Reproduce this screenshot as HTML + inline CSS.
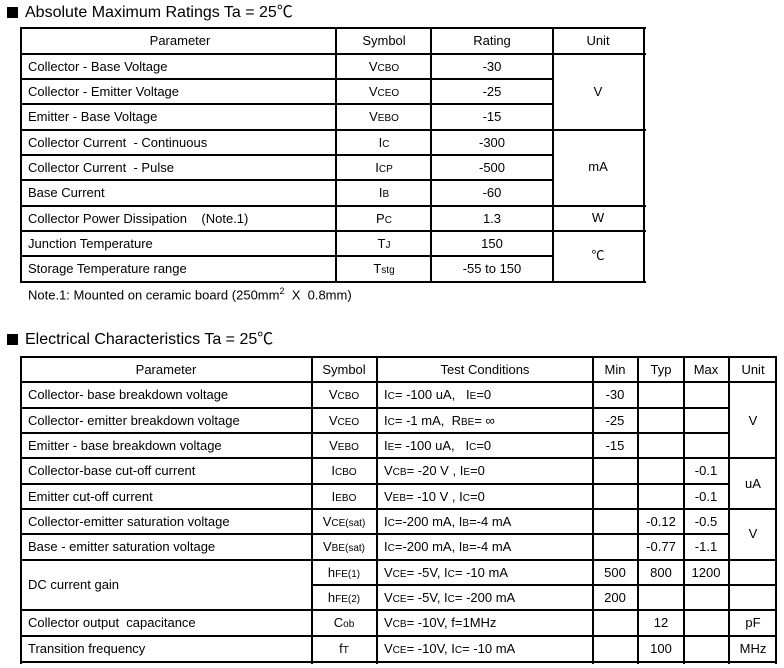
<!DOCTYPE html>
<html><head><meta charset="utf-8"><style>
body{margin:0;width:784px;height:668px;background:#fff;position:relative;overflow:hidden;font-family:"Liberation Sans","Noto Sans CJK SC",sans-serif;color:#000}
.t{position:absolute;font-size:13px;line-height:16px;white-space:nowrap}
.c{transform:translateX(-50%)}
.l{position:absolute;background:#000}
small{font-size:10px}
.h{position:absolute;font-size:16px;line-height:18px;white-space:nowrap}
.sq{position:absolute;width:11px;height:11px;background:#000}
</style></head><body>
<div class="sq" style="left:7px;top:7px"></div>
<div class="h" style="left:25px;top:4px">Absolute Maximum Ratings Ta = 25℃</div>
<div class="sq" style="left:7px;top:334px"></div>
<div class="h" style="left:25px;top:331px">Electrical Characteristics Ta = 25℃</div>
<div class="t" style="left:28px;top:283px">Note.1: Mounted on ceramic board (250mm<sup style="font-size:9px">2</sup>&nbsp; X&nbsp; 0.8mm)</div>
<script>
function L(x,y,w,h){document.write('<div class="l" style="left:'+x+'px;top:'+y+'px;width:'+w+'px;height:'+h+'px"></div>')}
function T(x,y,s,c){document.write('<div class="t'+(c?' c':'')+'" style="left:'+x+'px;top:'+(y-8)+'px">'+s+'</div>')}
function S(a,b){return a+'<small>'+b+'</small>'}
var c1=[21,336,431,553,644], r1=[28,54,79,104,130,155,180,206,231,256,282];
c1.forEach(function(x,i){L(x-1,r1[0]-1,2,r1[10]-r1[0]+2)});
L(20,27,626,2);L(20,53,626,2);L(20,281,626,2);
for(var i=2;i<10;i++){var y=r1[i];var merged=(i==2||i==3||i==5||i==6||i==9);L(20,y-1,merged?534:626,2);}
var rows1=[["Collector - Base Voltage",S("V","CBO"),"-30"],["Collector - Emitter Voltage",S("V","CEO"),"-25"],["Emitter - Base Voltage",S("V","EBO"),"-15"],["Collector Current&nbsp; - Continuous",S("I","C"),"-300"],["Collector Current&nbsp; - Pulse",S("I","CP"),"-500"],["Base Current",S("I","B"),"-60"],["Collector Power Dissipation&nbsp;&nbsp;&nbsp; (Note.1)",S("P","C"),"1.3"],["Junction Temperature",S("T","J"),"150"],["Storage Temperature range",S("T","stg"),"-55 to 150"]];
T(180,41,"Parameter",1);T(384,41,"Symbol",1);T(492,41,"Rating",1);T(598,41,"Unit",1);
rows1.forEach(function(r,i){var y=(r1[i+1]+r1[i+2])/2;T(28,y,r[0]);T(384,y,r[1],1);T(492,y,r[2],1);});
T(598,92,"V",1);T(598,167,"mA",1);T(598,218,"W",1);T(598,256,"℃",1);
var c2=[21,312,377,593,638,684,729,776], r2=[357,382,408,433,458,484,509,534,560,585,610,636,662];
c2.forEach(function(x){L(x-1,356,2,308)});
L(20,356,757,2);L(20,381,757,2);L(20,661,757,2);
var skipUnit={2:1,3:1,5:1,7:1}, skipParam={9:1};
for(var i=2;i<12;i++){var y=r2[i];
 if(skipParam[i]){L(311,y-1,skipUnit[i]?418:466,2);}
 else L(20,y-1,skipUnit[i]?709:757,2);}
T(166,370,"Parameter",1);T(344,370,"Symbol",1);T(485,370,"Test Conditions",1);T(615,370,"Min",1);T(661,370,"Typ",1);T(706,370,"Max",1);T(753,370,"Unit",1);
var rows2=[["Collector- base breakdown voltage",S("V","CBO"),S("I","C")+"= -100 uA,&nbsp;&nbsp; "+S("I","E")+"=0","-30","",""],
["Collector- emitter breakdown voltage",S("V","CEO"),S("I","C")+"= -1 mA,&nbsp; "+S("R","BE")+"= ∞","-25","",""],
["Emitter - base breakdown voltage",S("V","EBO"),S("I","E")+"= -100 uA,&nbsp;&nbsp; "+S("I","C")+"=0","-15","",""],
["Collector-base cut-off current",S("I","CBO"),S("V","CB")+"= -20 V , "+S("I","E")+"=0","","","-0.1"],
["Emitter cut-off current",S("I","EBO"),S("V","EB")+"= -10 V , "+S("I","C")+"=0","","","-0.1"],
["Collector-emitter saturation voltage",S("V","CE(sat)"),S("I","C")+"=-200 mA, "+S("I","B")+"=-4 mA","","-0.12","-0.5"],
["Base - emitter saturation voltage",S("V","BE(sat)"),S("I","C")+"=-200 mA, "+S("I","B")+"=-4 mA","","-0.77","-1.1"],
["",S("h","FE(1)"),S("V","CE")+"= -5V, "+S("I","C")+"= -10 mA","500","800","1200"],
["",S("h","FE(2)"),S("V","CE")+"= -5V, "+S("I","C")+"= -200 mA","200","",""],
["Collector output&nbsp; capacitance",S("C","ob"),S("V","CB")+"= -10V, f=1MHz","","12",""],
["Transition frequency",S("f","T"),S("V","CE")+"= -10V, "+S("I","C")+"= -10 mA","","100",""]];
rows2.forEach(function(r,i){var y=(r2[i+1]+r2[i+2])/2;if(r[0])T(28,y,r[0]);T(344,y,r[1],1);T(384,y,r[2]);T(615,y,r[3],1);T(661,y,r[4],1);T(706,y,r[5],1);});
T(28,585,"DC current gain");
T(753,421,"V",1);T(753,484,"uA",1);T(753,534,"V",1);T(753,623,"pF",1);T(753,649,"MHz",1);
</script>
</body></html>
